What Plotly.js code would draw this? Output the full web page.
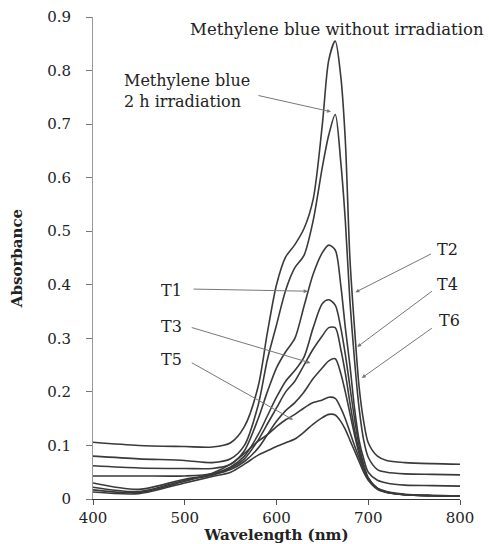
<!DOCTYPE html>
<html>
<head>
<meta charset="utf-8">
<script src="https://cdn.plot.ly/plotly-3.0.1.min.js"></script>
<style>html,body{margin:0;padding:0;background:#fff;}#chart{width:489px;height:544px;}</style>
</head>
<body>
<div id="chart"></div>
<script>
// Wavelength (nm) sample points shared by all spectra
var wavelength = [400, 450, 500, 530, 550, 565, 580, 590, 600, 610, 620, 630, 640, 650, 657, 664, 670, 675, 680, 685, 690, 695, 700, 710, 720, 740, 770, 800];

var mbWithout = [0.106, 0.100, 0.098, 0.097, 0.105, 0.135, 0.210, 0.310, 0.400, 0.452, 0.475, 0.505, 0.560, 0.700, 0.820, 0.855, 0.790, 0.670, 0.450, 0.320, 0.210, 0.145, 0.105, 0.080, 0.072, 0.068, 0.066, 0.065];
var mb2h      = [0.080, 0.075, 0.072, 0.068, 0.075, 0.100, 0.175, 0.260, 0.325, 0.390, 0.432, 0.455, 0.520, 0.620, 0.680, 0.718, 0.630, 0.520, 0.370, 0.260, 0.170, 0.110, 0.078, 0.055, 0.050, 0.047, 0.046, 0.045];
var t1        = [0.062, 0.058, 0.057, 0.057, 0.065, 0.090, 0.150, 0.200, 0.245, 0.275, 0.300, 0.360, 0.420, 0.460, 0.474, 0.465, 0.400, 0.320, 0.250, 0.170, 0.110, 0.075, 0.050, 0.035, 0.030, 0.026, 0.025, 0.024];
var t2        = [0.043, 0.043, 0.043, 0.047, 0.060, 0.080, 0.120, 0.155, 0.190, 0.220, 0.240, 0.265, 0.320, 0.365, 0.372, 0.362, 0.320, 0.270, 0.210, 0.150, 0.100, 0.065, 0.040, 0.020, 0.012, 0.008, 0.006, 0.005];
var t3        = [0.030, 0.018, 0.037, 0.045, 0.058, 0.075, 0.110, 0.140, 0.170, 0.200, 0.220, 0.250, 0.280, 0.305, 0.320, 0.320, 0.280, 0.235, 0.180, 0.130, 0.090, 0.060, 0.038, 0.020, 0.013, 0.008, 0.006, 0.005];
var t4        = [0.022, 0.014, 0.035, 0.045, 0.055, 0.070, 0.095, 0.120, 0.145, 0.165, 0.180, 0.200, 0.225, 0.245, 0.258, 0.262, 0.235, 0.200, 0.160, 0.120, 0.085, 0.058, 0.038, 0.020, 0.013, 0.008, 0.006, 0.005];
var t5        = [0.017, 0.012, 0.033, 0.048, 0.065, 0.085, 0.108, 0.120, 0.135, 0.148, 0.158, 0.170, 0.180, 0.185, 0.190, 0.188, 0.170, 0.150, 0.125, 0.100, 0.077, 0.055, 0.038, 0.020, 0.014, 0.009, 0.007, 0.006];
var t6        = [0.013, 0.010, 0.030, 0.042, 0.050, 0.065, 0.082, 0.090, 0.098, 0.105, 0.112, 0.125, 0.140, 0.152, 0.158, 0.157, 0.145, 0.130, 0.110, 0.090, 0.070, 0.050, 0.035, 0.018, 0.012, 0.008, 0.006, 0.005];

var seriesNames = ["Methylene blue without irradiation", "Methylene blue 2 h irradiation", "T1", "T2", "T3", "T4", "T5", "T6"];
var seriesValues = [mbWithout, mb2h, t1, t2, t3, t4, t5, t6];

var xTicks = [400, 500, 600, 700, 800];
var yTicks = [0, 0.1, 0.2, 0.3, 0.4, 0.5, 0.6, 0.7, 0.8, 0.9];
var yTickText = ["0", "0.1", "0.2", "0.3", "0.4", "0.5", "0.6", "0.7", "0.8", "0.9"];

// Label texts with [label x, label y, arrow tail x, tail y, head x, head y] in data units
var labelTexts = ["T1", "T2", "T3", "T4", "T5", "T6"];
var labelPos = [
  [486, 0.390, 508, 0.392, 634, 0.388],
  [786, 0.465, 770, 0.459, 686, 0.386],
  [486, 0.323, 506, 0.321, 637, 0.254],
  [786, 0.400, 771, 0.390, 688, 0.284],
  [486, 0.260, 506, 0.256, 618, 0.148],
  [789, 0.334, 771, 0.321, 693, 0.226]
];

var FONT = "DejaVu Serif, Liberation Serif, serif";
var traces = seriesValues.map(function (vals, i) {
  return {
    x: wavelength, y: vals, name: seriesNames[i], type: "scatter", mode: "lines",
    line: {color: "#3a3a3a", width: 1.6, shape: "spline", smoothing: 0.8},
    hoverinfo: "x+y+name"
  };
});

var ann = [];
var arrowStyle = {showarrow: true, arrowhead: 2, arrowsize: 0.8, arrowwidth: 1, arrowcolor: "#777", axref: "x", ayref: "y", xref: "x", yref: "y", text: ""};
labelPos.forEach(function (p, i) {
  ann.push({x: p[0], y: p[1], xref: "x", yref: "y", text: labelTexts[i], showarrow: false, font: {family: FONT, size: 16, color: "#222"}});
  ann.push(Object.assign({}, arrowStyle, {x: p[4], y: p[5], ax: p[2], ay: p[3]}));
});
ann.push({x: 503.5, y: 0.876, xref: "x", yref: "y", xanchor: "left", text: "Methylene blue without irradiation", showarrow: false, font: {family: FONT, size: 16.5, color: "#222"}});
ann.push({x: 431.6, y: 0.762, xref: "x", yref: "y", xanchor: "left", align: "left", text: "Methylene blue<br>2 h irradiation", showarrow: false, font: {family: FONT, size: 16, color: "#222"}});
ann.push(Object.assign({}, arrowStyle, {x: 659.4, y: 0.723, ax: 578.7, ay: 0.754}));

var layout = {
  width: 489, height: 544,
  margin: {l: 93, r: 29, t: 17, b: 45},
  paper_bgcolor: "#fff", plot_bgcolor: "#fff",
  showlegend: false,
  font: {family: FONT, size: 14, color: "#222"},
  xaxis: {
    range: [400, 800], tickvals: xTicks, ticktext: xTicks.map(String),
    showgrid: false, zeroline: false, showline: true, linecolor: "#333", linewidth: 1,
    ticks: "outside", ticklen: 5, tickcolor: "#555", ticklabelstandoff: 0,
    tickfont: {family: FONT, size: 15, color: "#222"},
    title: {text: "<b>Wavelength (nm)</b>", font: {family: FONT, size: 15, color: "#222"}, standoff: 6}
  },
  yaxis: {
    range: [0, 0.9], tickvals: yTicks, ticktext: yTickText,
    showgrid: false, zeroline: false, showline: true, linecolor: "#999", linewidth: 1,
    ticks: "outside", ticklen: 6, tickcolor: "#777", ticklabelstandoff: 12,
    tickfont: {family: FONT, size: 15, color: "#222"},
    title: {text: "<b>Absorbance</b>", font: {family: FONT, size: 15, color: "#222"}, standoff: 20}
  },
  annotations: ann
};

Plotly.newPlot("chart", traces, layout, {staticPlot: true, displayModeBar: false});
</script>
</body>
</html>
